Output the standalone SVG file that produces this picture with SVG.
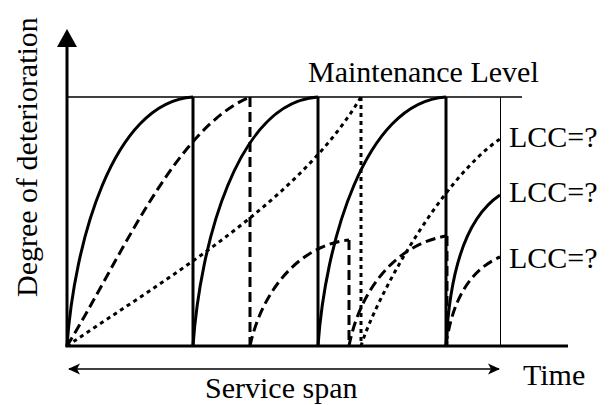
<svg xmlns="http://www.w3.org/2000/svg" width="609" height="405" viewBox="0 0 609 405">
  <style>
    .lbl { font-family: "Liberation Serif", "Times New Roman", Times, Tinos, "Noto Serif", "DejaVu Serif", FreeSerif, serif; font-size: 30px; fill: #000; }
    .axis { stroke: #000; stroke-width: 3; fill: none; }
    .thin { stroke: #000; stroke-width: 1.5; fill: none; }
    .hair { stroke: #000; stroke-width: 1; fill: none; }
    .solid { stroke: #000; stroke-width: 3; fill: none; }
    .dash { stroke: #000; stroke-width: 3; fill: none; stroke-dasharray: 10 5; }
    .dot { stroke: #000; stroke-width: 3; fill: none; stroke-dasharray: 4 4; }
  </style>
  <defs>
    <marker id="head" viewBox="0 0 12 12" refX="11" refY="6" markerWidth="12" markerHeight="12" markerUnits="userSpaceOnUse" orient="auto-start-reverse">
      <path d="M0,0.5 L12,6 L0,11.5 L3,6 Z" fill="#000"/>
    </marker>
  </defs>
  <rect width="609" height="405" fill="#fff"/>

  <!-- axes and reference lines -->
  <g id="axes">
    <line class="axis" x1="67" y1="347" x2="67" y2="44"/>
    <polygon points="67,29 57,47 77,47" fill="#000"/>
    <line class="axis" x1="65.5" y1="346" x2="568" y2="346"/>
    <line class="thin" x1="67" y1="97" x2="522" y2="97"/>
    <line class="hair" x1="500.5" y1="97" x2="500.5" y2="346"/>
    <line class="thin" x1="69" y1="369" x2="499" y2="369" marker-start="url(#head)" marker-end="url(#head)"/>
  </g>

  <!-- deterioration curves and repairs -->
  <g id="connectors">
    <!-- frequent maintenance (solid) -->
    <g id="plan-solid">
      <path class="solid" d="M67,346 C74,245 112,102 193,97"/>
      <line class="solid" x1="193" y1="97" x2="193" y2="346"/>
      <path class="solid" d="M193,346 C200,245 237,102 318,97"/>
      <line class="solid" x1="318" y1="97" x2="318" y2="346"/>
      <path class="solid" d="M318,346 C325,245 364,102 446,97"/>
      <line class="solid" x1="446" y1="97" x2="446" y2="346"/>
      <path class="solid" d="M446,346 C450,260 470,215 500,195"/>
    </g>
    <!-- intermediate maintenance (dashed) -->
    <g id="plan-dashed">
      <path class="dash" d="M67,346 C120,260 175,128 250,97"/>
      <line class="dash" x1="250" y1="97" x2="250" y2="346"/>
      <path class="dash" d="M250,346 C262,290 300,245 349,240"/>
      <line class="dash" x1="349" y1="240" x2="349" y2="346"/>
      <path class="dash" d="M349,346 C360,290 395,245 446,236"/>
      <line class="dash" x1="447" y1="236" x2="447" y2="346"/>
      <path class="dash" d="M446,346 C452,300 470,270 500,257"/>
    </g>
    <!-- infrequent maintenance (dotted) -->
    <g id="plan-dotted">
      <path class="dot" d="M67,346 C170,276 300,200 361,97"/>
      <line class="dot" x1="361" y1="97" x2="361" y2="346"/>
      <path class="dot" d="M361,346 C375,300 440,180 500,139"/>
    </g>
  </g>

  <!-- labels -->
  <g id="labels">
    <text class="lbl" x="308" y="82">Maintenance Level</text>
    <text class="lbl" x="509" y="147">LCC=?</text>
    <text class="lbl" x="509" y="202">LCC=?</text>
    <text class="lbl" x="509" y="268">LCC=?</text>
    <text class="lbl" x="523" y="385">Time</text>
    <text class="lbl" x="205" y="398">Service span</text>
    <text class="lbl" x="37" y="297" transform="rotate(-90 37 297)">Degree of deterioration</text>
  </g>
</svg>
